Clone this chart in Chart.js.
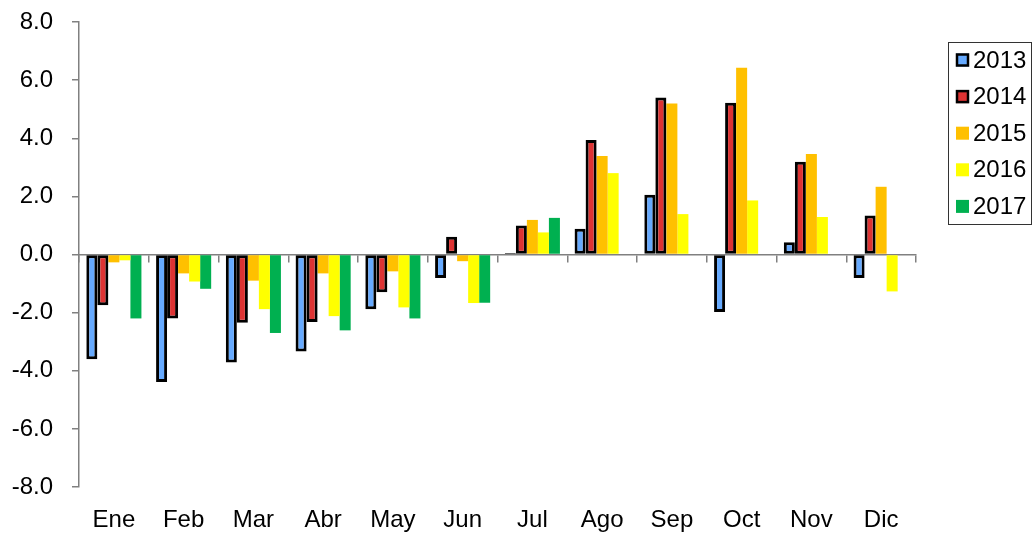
<!DOCTYPE html>
<html>
<head>
<meta charset="utf-8">
<script src="https://cdn.jsdelivr.net/npm/chart.js@4.4.0/dist/chart.umd.min.js"></script>
<style>
  body { margin: 0; background: #fff; }
  #wrap { width: 1032px; height: 536px; }
</style>
</head>
<body>
<div id="wrap"><canvas id="myCanvas"></canvas></div>
<script>
const meses = ['Ene', 'Feb', 'Mar', 'Abr', 'May', 'Jun', 'Jul', 'Ago', 'Sep', 'Oct', 'Nov', 'Dic'];
const anios = ['2013', '2014', '2015', '2016', '2017'];

const v2013 = [-3.6, -4.39, -3.72, -3.34, -1.88, -0.81, 0.05, 0.89, 2.06, -1.98, 0.42, -0.81];
const v2014 = [-1.75, -2.2, -2.35, -2.32, -1.3, 0.61, 1.0, 3.94, 5.4, 5.22, 3.19, 1.34];
const v2015 = [-0.27, -0.65, -0.9, -0.65, -0.58, -0.23, 1.19, 3.39, 5.2, 6.43, 3.46, 2.33];
const v2016 = [-0.2, -0.93, -1.88, -2.12, -1.82, -1.67, 0.76, 2.8, 1.39, 1.86, 1.29, -1.27];
const v2017 = [-2.2, -1.18, -2.7, -2.61, -2.2, -1.66, 1.26, null, null, null, null, null];

const yTicks = [-8, -6, -4, -2, 0, 2, 4, 6, 8];

const colores = ['#66AAFF', '#DD3333', '#FFC000', '#FFFF00', '#00B050'];
const bordes = [3, 3, 0, 0, 0];
const series = [v2013, v2014, v2015, v2016, v2017];

const fuente = '"Liberation Sans", Arial, sans-serif';

// leyenda con marco, como en la hoja original
const legendBox = {
  id: 'legendBox',
  afterDraw(chart, args, opts) {
    const ctx = chart.ctx;
    ctx.save();
    ctx.strokeStyle = '#333';
    ctx.lineWidth = 1;
    ctx.strokeRect(opts.left + 0.5, opts.top + 0.5, opts.width, opts.height);
    ctx.font = '24px ' + fuente;
    ctx.textBaseline = 'middle';
    chart.data.datasets.forEach((ds, i) => {
      const y = opts.top + opts.first + i * opts.gap;
      ctx.fillStyle = ds.backgroundColor;
      ctx.fillRect(opts.left + 8, y - 6.5, 13, 13);
      if (ds.borderWidth) {
        ctx.strokeStyle = '#000';
        ctx.lineWidth = 2.5;
        ctx.strokeRect(opts.left + 9, y - 5.5, 11, 11);
      }
      ctx.fillStyle = '#000';
      ctx.fillText(ds.label, opts.left + 25, y + 1);
    });
    ctx.restore();
  }
};

const ctx = document.getElementById('myCanvas').getContext('2d');

let chart = new Chart(ctx, {
  type: 'bar',
  data: {
    labels: meses,
    datasets: anios.map((a, i) => ({
      label: a,
      data: series[i],
      backgroundColor: colores[i],
      borderColor: '#000',
      borderWidth: bordes[i],
      borderSkipped: false,
      categoryPercentage: 0.79,
      barPercentage: 1
    }))
  },
  options: {
    responsive: true,
    maintainAspectRatio: false,
    animation: false,
    layout: { padding: { top: 22, right: 116, bottom: 0, left: 0 } },
    scales: {
      x: {
        position: { y: 0 },
        grid: { drawOnChartArea: false, drawTicks: true, tickLength: 7, color: '#808080', lineWidth: 1.5, offset: true },
        border: { color: '#808080', width: 1.5 },
        ticks: { display: false }
      },
      x2: {
        type: 'category',
        labels: meses,
        position: 'bottom',
        offset: true,
        grid: { display: false },
        border: { display: false },
        ticks: { color: '#000', font: { size: 24, family: fuente }, padding: 11, maxRotation: 0 },
        afterFit: (s) => { s.height = 49; }
      },
      y: {
        min: -8,
        max: 8,
        afterBuildTicks: (s) => { s.ticks = yTicks.map(v => ({ value: v })); },
        grid: { drawOnChartArea: false, drawTicks: true, tickLength: 7, color: '#808080', lineWidth: 1.5 },
        border: { color: '#808080', width: 1.5 },
        ticks: {
          color: '#000',
          font: { size: 24, family: fuente },
          padding: 19,
          callback: (v) => Number(v).toFixed(1)
        },
        afterFit: (s) => { s.width = 79; s.paddingTop = 0; s.paddingBottom = 0; }
      }
    },
    plugins: {
      legend: { display: false },
      tooltip: { enabled: false },
      legendBox: { left: 948, top: 42, width: 83, height: 182, first: 18, gap: 36.6 }
    }
  },
  plugins: [legendBox]
});
</script>
</body>
</html>
